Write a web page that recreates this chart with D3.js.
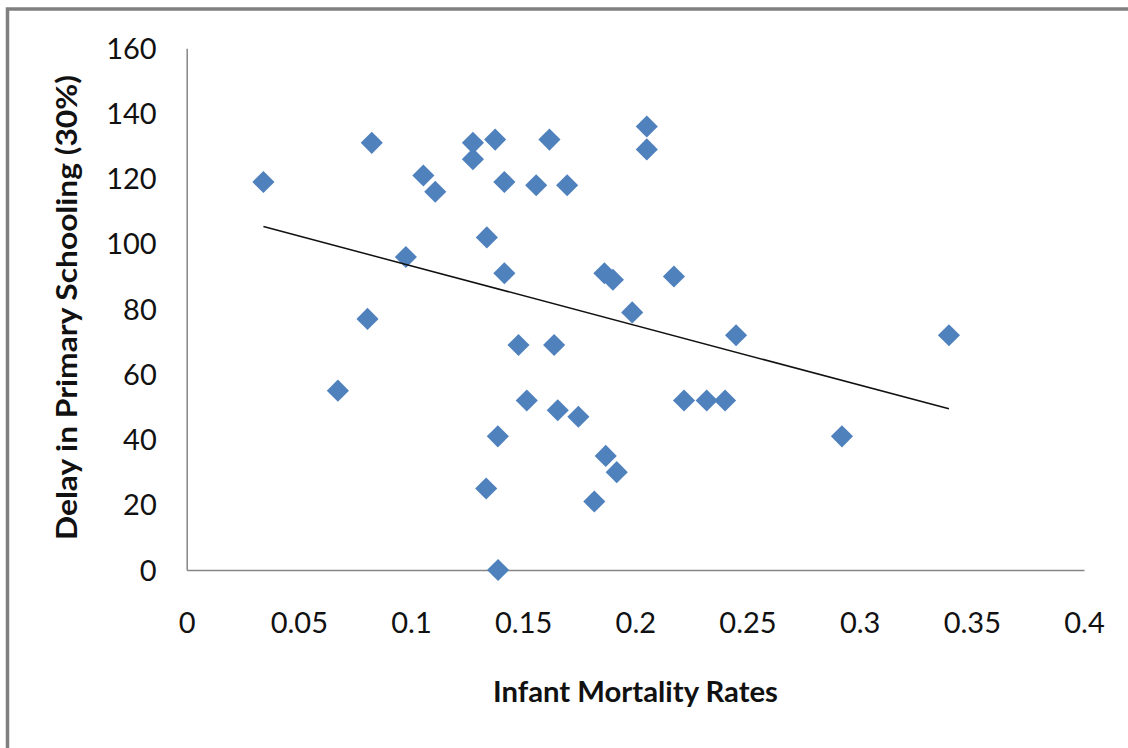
<!DOCTYPE html>
<html>
<head>
<meta charset="utf-8">
<script src="https://cdn.jsdelivr.net/npm/d3@7"></script>
<style>
  body { margin: 0; background: #fff; }
  svg { display: block; }
  .tick text { font-family: Lato, "Open Sans", sans-serif; fill: #111; }
  .axisTitle { font-family: Lato, "Open Sans", sans-serif; font-weight: bold; fill: #111; }
</style>
</head>
<body>
<div id="scatter"></div>
<script>
//Data: infant mortality rate (x) and delay in schooling (y)
let mortality = [0.0342, 0.0825, 0.1055, 0.1108, 0.0977, 0.0806, 0.0674, 0.1276, 0.1276, 0.1375,
  0.1416, 0.1558, 0.1617, 0.1696, 0.2051, 0.2051, 0.1338, 0.1416, 0.1862, 0.19,
  0.1986, 0.2172, 0.2449, 0.3398, 0.1479, 0.1638, 0.1516, 0.1654, 0.1746, 0.2217,
  0.2318, 0.24, 0.1387, 0.2921, 0.1868, 0.1917, 0.1335, 0.1817, 0.1388];
let delay = [119, 131, 121, 116, 96, 77, 55, 131, 126, 132,
  119, 118, 132, 118, 136, 129, 102, 91, 91, 89,
  79, 90, 72, 72, 69, 69, 52, 49, 47, 52,
  52, 52, 41, 41, 35, 30, 25, 21, 0];
let xTicks = [0, 0.05, 0.1, 0.15, 0.2, 0.25, 0.3, 0.35, 0.4];
let yTicks = [0, 20, 40, 60, 80, 100, 120, 140, 160];

//Size of the page
let svgWidth = 1128;
let svgHeight = 748;

let svg = d3.select("#scatter")
  .append("svg")
  .attr("width", svgWidth)
  .attr("height", svgHeight);

//Gray frame on the top and left side
svg.append("rect")
  .attr("x", 7.5)
  .attr("y", 9)
  .attr("width", svgWidth + 20)
  .attr("height", svgHeight + 20)
  .attr("fill", "none")
  .attr("stroke", "#808080")
  .attr("stroke-width", 3.5);

//Scales
let xScale = d3.scaleLinear().domain([0, 0.4]).range([186.7, 1084]);
let yScale = d3.scaleLinear().domain([0, 160]).range([570, 48.3]);

//Axes
let bottomAxis = d3.axisBottom(xScale)
  .tickValues(xTicks)
  .tickSize(0)
  .tickPadding(0)
  .tickFormat(d => d);
let leftAxis = d3.axisLeft(yScale)
  .tickValues(yTicks)
  .tickSize(0)
  .tickFormat(d => d);

let xAxisGroup = svg.append("g")
  .attr("transform", `translate(0, ${yScale(0)})`)
  .call(bottomAxis);
xAxisGroup.selectAll(".tick text")
  .attr("y", 63)
  .attr("dy", 0)
  .style("font-size", "29px");

let yAxisGroup = svg.append("g")
  .attr("transform", `translate(${xScale(0)}, 0)`)
  .call(leftAxis);
yAxisGroup.selectAll(".tick text")
  .attr("x", -30)
  .attr("dy", 10)
  .style("font-size", "29px");

svg.selectAll(".domain")
  .attr("stroke", "#868686")
  .attr("stroke-width", 1.5);

//Trend line from a least squares fit of the points
let n = mortality.length;
let meanX = d3.mean(mortality);
let meanY = d3.mean(delay);
let sxy = d3.sum(mortality, (v, i) => (v - meanX) * (delay[i] - meanY));
let sxx = d3.sum(mortality, v => (v - meanX) * (v - meanX));
let slope = sxy / sxx;
let intercept = meanY - slope * meanX;
let xExtent = d3.extent(mortality);

//Points
let points = mortality.map((v, i) => ({ x: v, y: delay[i] }));
svg.append("g")
  .selectAll("path")
  .data(points)
  .enter()
  .append("path")
  .attr("d", d3.symbol(d3.symbolSquare, 245))
  .attr("transform", d => `translate(${xScale(d.x)}, ${yScale(d.y)}) rotate(45)`)
  .attr("fill", "#4F81BD");

svg.append("line")
  .attr("x1", xScale(xExtent[0]))
  .attr("y1", yScale(intercept + slope * xExtent[0]))
  .attr("x2", xScale(xExtent[1]))
  .attr("y2", yScale(intercept + slope * xExtent[1]))
  .attr("stroke", "#111")
  .attr("stroke-width", 1.5);

//Axis titles
svg.append("text")
  .attr("class", "axisTitle")
  .attr("x", 635.5)
  .attr("y", 702)
  .attr("text-anchor", "middle")
  .attr("textLength", 285)
  .attr("lengthAdjust", "spacingAndGlyphs")
  .style("font-size", "28px")
  .text("Infant Mortality Rates");

svg.append("text")
  .attr("class", "axisTitle")
  .attr("transform", "translate(77, 307.5) rotate(-90)")
  .attr("text-anchor", "middle")
  .attr("textLength", 465)
  .attr("lengthAdjust", "spacingAndGlyphs")
  .style("font-size", "28px")
  .text("Delay in Primary Schooling (30%)");
</script>
</body>
</html>
